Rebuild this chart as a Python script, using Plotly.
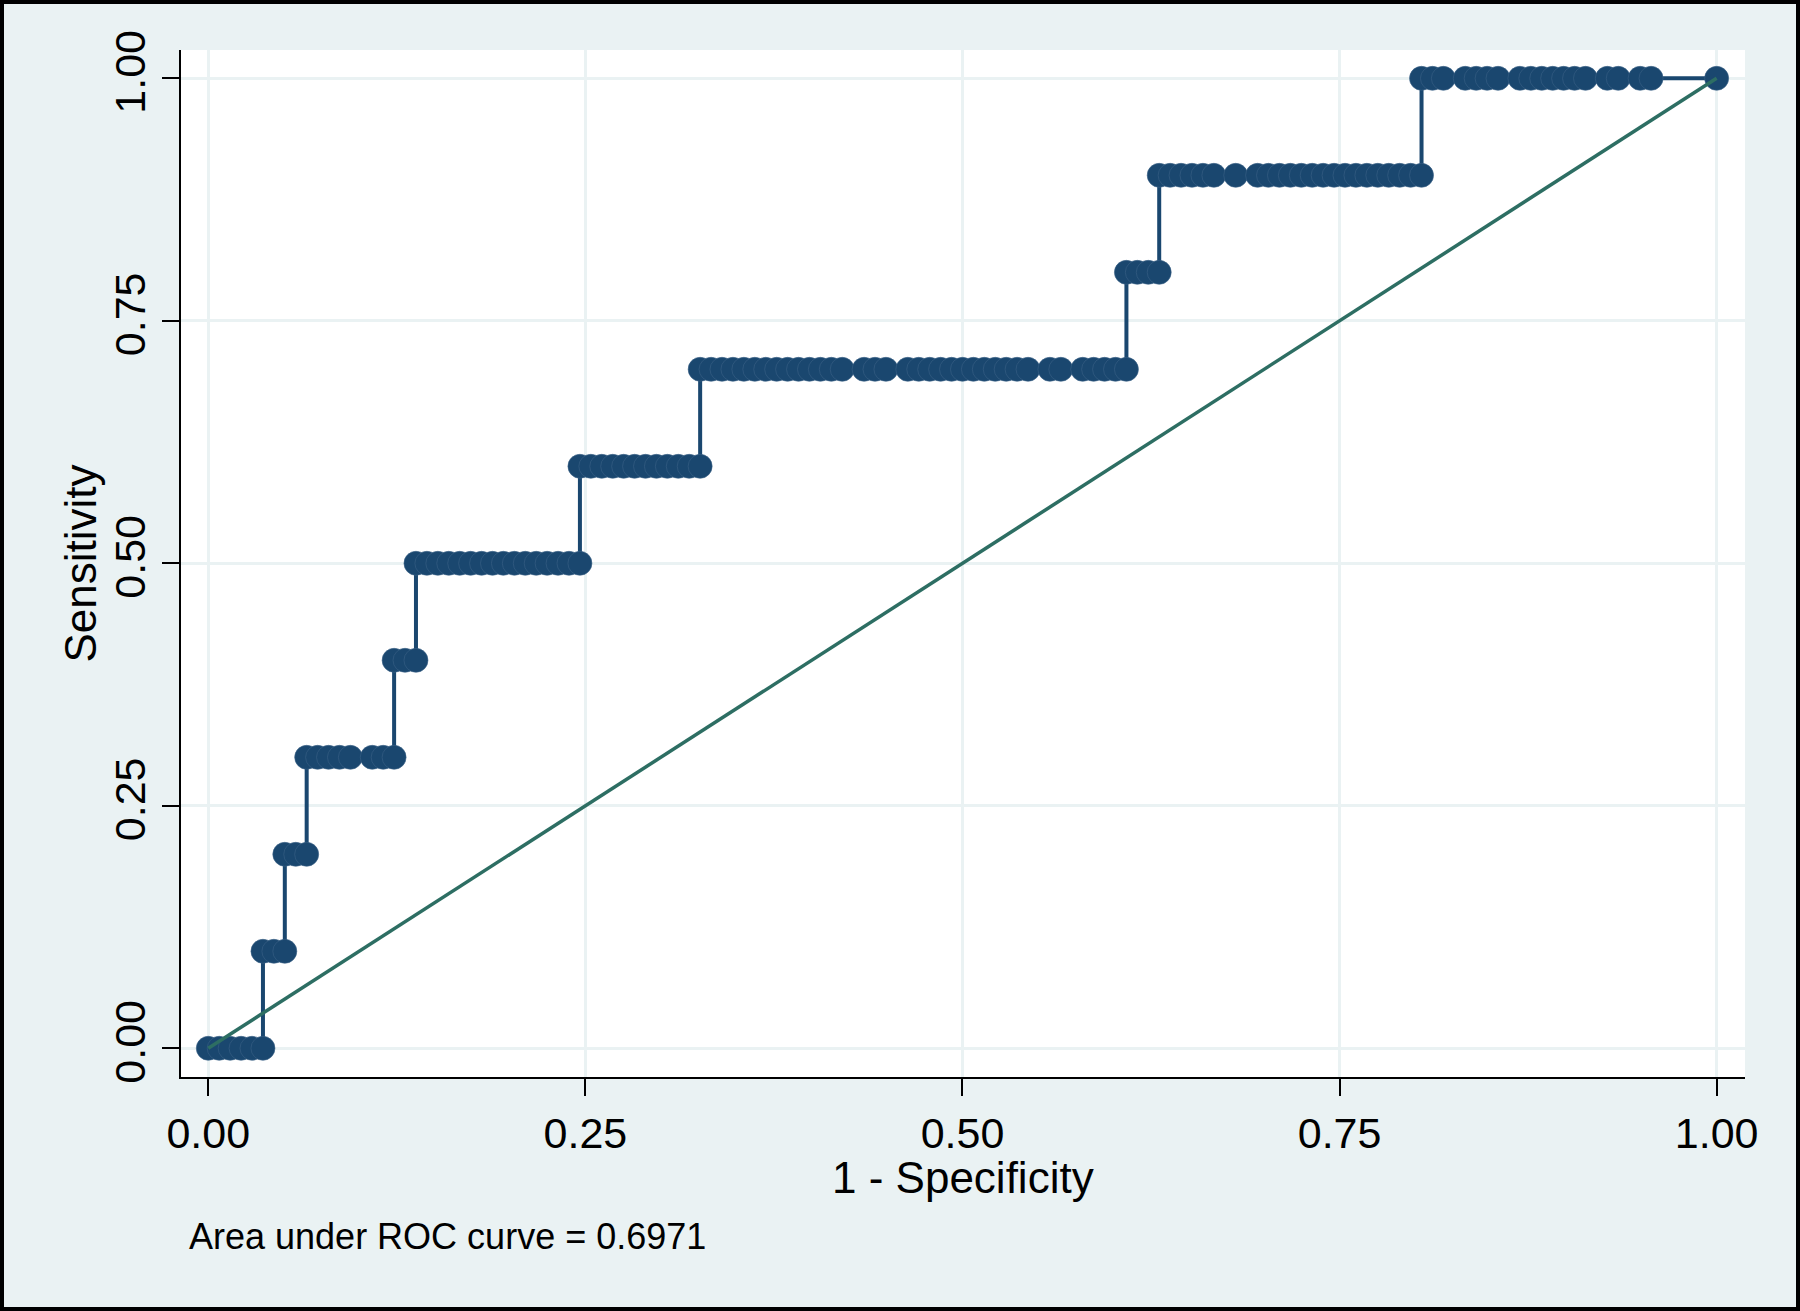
import numpy as np
import plotly.graph_objects as go

# ROC points: false-positive counts (out of n_negative) at each sensitivity level
n_negative = 138
sens_levels = [0.0, 0.1, 0.2, 0.3, 0.4, 0.5, 0.6, 0.7, 0.8, 0.9, 1.0]
fp_counts = [
    [0, 1, 2, 3, 4, 5],
    [5, 6, 7],
    [7, 8, 9],
    [9, 10, 11, 12, 13, 15, 16, 17],
    [17, 18, 19],
    [19, 20, 21, 22, 23, 24, 25, 26, 27, 28, 29, 30, 31, 32, 33, 34],
    [34, 35, 36, 37, 38, 39, 40, 41, 42, 43, 44, 45],
    [45, 46, 47, 48, 49, 50, 51, 52, 53, 54, 55, 56, 57, 58, 60, 61, 62,
     64, 65, 66, 67, 68, 69, 70, 71, 72, 73, 74, 75, 77, 78, 80, 81, 82, 83, 84],
    [84, 85, 86, 87],
    [87, 88, 89, 90, 91, 92, 94, 96, 97, 98, 99, 100, 101, 102, 103, 104,
     105, 106, 107, 108, 109, 110, 111],
    [111, 112, 113, 115, 116, 117, 118, 120, 121, 122, 123, 124, 125, 126,
     128, 129, 131, 132, 138],
]
auc_text = "Area under ROC curve = 0.6971"
x_title = "1 - Specificity"
y_title = "Sensitivity"
tick_vals = [0, 0.25, 0.5, 0.75, 1]
tick_text = ["0.00", "0.25", "0.50", "0.75", "1.00"]

fpr = []
tpr = []
for level, counts in zip(sens_levels, fp_counts):
    for k in counts:
        fpr.append(k / n_negative)
        tpr.append(level)
fpr = np.array(fpr)
tpr = np.array(tpr)

W, H = 1800, 1311
ml, mr, mt, mb = 181, 55, 50, 234
pw, ph = W - ml - mr, H - mt - mb

navy = "#1a476f"
green = "#2d6e63"
bg = "#eaf2f3"
font = "Liberation Sans, Arial, sans-serif"


def px_x(x):
    return (x - ml) / pw


def px_y(y):
    return (mt + ph - y) / ph


fig = go.Figure()
fig.add_scatter(
    x=fpr, y=tpr, mode="lines+markers",
    line=dict(color=navy, width=4),
    marker=dict(color=navy, size=24, line=dict(color="#3a6286", width=0.6)),
    showlegend=False,
)
fig.add_scatter(
    x=[0, 1], y=[0, 1], mode="lines",
    line=dict(color=green, width=3.5),
    showlegend=False,
)

axis_common = dict(
    tickvals=tick_vals, ticktext=tick_text,
    showgrid=True, gridcolor=bg, gridwidth=3,
    zeroline=False, showline=True, linecolor="black", linewidth=2,
    ticks="outside", ticklen=17, tickwidth=2, tickcolor="black",
    tickfont=dict(family=font, size=43, color="black"),
)
fig.update_xaxes(range=[-0.0181, 1.0188], **axis_common)
fig.update_yaxes(range=[-0.0296, 1.0292], tickangle=-90, **axis_common)

fig.add_annotation(
    text=x_title, xref="paper", yref="paper",
    x=0.5, y=px_y(1177), xanchor="center", yanchor="middle",
    showarrow=False, font=dict(family=font, size=44, color="black"),
)
fig.add_annotation(
    text=y_title, xref="paper", yref="paper", textangle=-90,
    x=px_x(80), y=0.5, xanchor="center", yanchor="middle",
    showarrow=False, font=dict(family=font, size=44, color="black"),
)
fig.add_annotation(
    text=auc_text, xref="paper", yref="paper",
    x=px_x(187), y=px_y(1236), xanchor="left", yanchor="middle",
    showarrow=False, font=dict(family=font, size=36, color="black"),
)

# outer black frame around the whole graph
fig.add_shape(
    type="rect", xref="paper", yref="paper",
    x0=px_x(2), x1=px_x(W - 2), y0=px_y(H - 2), y1=px_y(2),
    line=dict(color="black", width=4), fillcolor="rgba(0,0,0,0)", layer="above",
)

fig.update_layout(
    width=W, height=H,
    margin=dict(l=ml, r=mr, t=mt, b=mb, autoexpand=False),
    paper_bgcolor=bg, plot_bgcolor="white",
    font=dict(family=font, color="black"),
)

fig.write_html(
    "out.html",
    config={"displayModeBar": False},
    post_script="document.body.style.margin='0';document.body.style.overflow='hidden';",
)
